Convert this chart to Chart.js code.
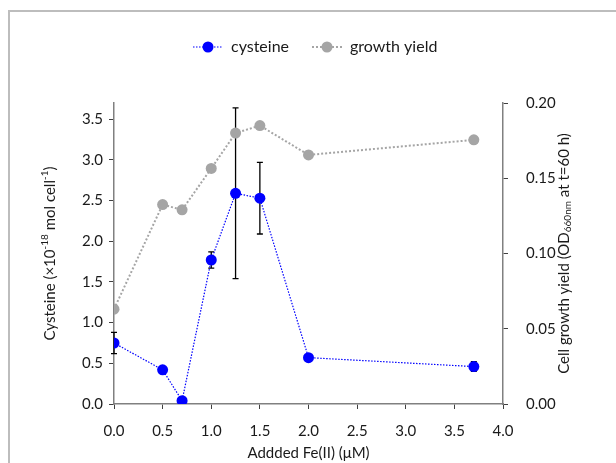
<!DOCTYPE html>
<html><head><meta charset="utf-8">
<script src="https://cdn.jsdelivr.net/npm/chart.js@4/dist/chart.umd.min.js"></script>
<style>
html,body{margin:0;padding:0;background:#fff;}
#wrap{position:relative;width:616px;height:463px;overflow:hidden;background:#fff;}
#frame{position:absolute;left:8px;top:10px;width:700px;height:600px;border-left:2px solid #bdbdbd;border-top:2px solid #bdbdbd;}
canvas{position:absolute;left:0;top:0;}
</style></head><body>
<div id="wrap"><div id="frame"></div><canvas id="c" width="616" height="463"></canvas></div>
<script>
// ---- data ----
const feAdded      = [0, 0.5, 0.7, 1.0, 1.25, 1.5, 2.0, 3.7];
const cysteine     = [0.75, 0.42, 0.04, 1.77, 2.59, 2.53, 0.57, 0.46];
const cysteineErr  = [0.13, 0, 0, 0.10, 1.05, 0.44, 0, 0.06];
const growthYield  = [0.063, 0.1325, 0.129, 0.1565, 0.180, 0.185, 0.1655, 0.1755];
const xTickValues     = [0, 0.5, 1.0, 1.5, 2.0, 2.5, 3.0, 3.5, 4.0];
const leftTickValues  = [0, 0.5, 1.0, 1.5, 2.0, 2.5, 3.0, 3.5];
const rightTickValues = [0, 0.05, 0.10, 0.15, 0.20];
const seriesNames = ['cysteine', 'growth yield'];

const FONT = 'Lato, "Open Sans", sans-serif';
const AXIS_COLOR = '#808080';
const TICK_COLOR = '#404040';
const TEXT_COLOR = '#1a1a1a';

const pts = (ys) => feAdded.map((x, i) => ({x: x, y: ys[i]}));
const setTicks = (vals) => (scale) => { scale.ticks = vals.map(v => ({value: v})); };

function drawRich(ctx, segs, cx, cy, rot) {
  ctx.save();
  ctx.translate(cx, cy);
  ctx.rotate(rot);
  ctx.fillStyle = TEXT_COLOR;
  ctx.textBaseline = 'middle';
  ctx.textAlign = 'left';
  let w = 0;
  segs.forEach(s => { ctx.font = (s.k ? '10px ' : '15px ') + FONT; s.w = ctx.measureText(s.t).width; w += s.w; });
  let x = -w / 2;
  segs.forEach(s => {
    ctx.font = (s.k ? '10px ' : '15px ') + FONT;
    const dy = s.k === 'sup' ? -5 : (s.k === 'sub' ? 4 : 0);
    ctx.fillText(s.t, x, dy);
    x += s.w;
  });
  ctx.restore();
}

const errorBars = {
  id: 'errorBars',
  beforeDatasetsDraw(chart) {
    const ctx = chart.ctx, xs = chart.scales.x, ys = chart.scales.yL;
    ctx.save();
    ctx.strokeStyle = '#000';
    ctx.lineWidth = 1.3;
    feAdded.forEach((x, i) => {
      const e = cysteineErr[i];
      if (!e) return;
      const px = xs.getPixelForValue(x);
      const top = ys.getPixelForValue(cysteine[i] + e);
      const bot = ys.getPixelForValue(cysteine[i] - e);
      ctx.beginPath();
      ctx.moveTo(px, top); ctx.lineTo(px, bot);
      ctx.moveTo(px - 3, top); ctx.lineTo(px + 3, top);
      ctx.moveTo(px - 3, bot); ctx.lineTo(px + 3, bot);
      ctx.stroke();
    });
    ctx.restore();
  }
};

const extras = {
  id: 'extras',
  afterDraw(chart) {
    const ctx = chart.ctx, a = chart.chartArea;
    // axis titles
    drawRich(ctx, [{t: 'Cysteine (\u00d710'}, {t: '-18', k: 'sup'}, {t: ' mol cell'}, {t: '-1', k: 'sup'}, {t: ')'}],
      50, (a.top + a.bottom) / 2, -Math.PI / 2);
    drawRich(ctx, [{t: 'Cell growth yield (OD'}, {t: '660nm', k: 'sub'}, {t: ' at t=60 h)'}],
      564, (a.top + a.bottom) / 2, -Math.PI / 2);
    drawRich(ctx, [{t: 'Addded Fe(II) (\u03bcM)'}], (a.left + a.right) / 2, 453, 0);
    // legend
    const items = [
      {name: seriesNames[0], color: '#0000ff', dash: [1.5, 1.5], lw: 1.2, x0: 193},
      {name: seriesNames[1], color: '#a5a5a5', dash: [2, 2], lw: 2, x0: 312}
    ];
    const ly = 47;
    items.forEach(it => {
      ctx.save();
      ctx.strokeStyle = it.color; ctx.lineWidth = it.lw; ctx.setLineDash(it.dash);
      ctx.beginPath(); ctx.moveTo(it.x0, ly); ctx.lineTo(it.x0 + 30, ly); ctx.stroke();
      ctx.setLineDash([]);
      ctx.fillStyle = it.color;
      ctx.beginPath(); ctx.arc(it.x0 + 15, ly, 5.5, 0, Math.PI * 2); ctx.fill();
      ctx.fillStyle = TEXT_COLOR; ctx.font = '16px ' + FONT;
      ctx.textBaseline = 'middle'; ctx.textAlign = 'left';
      ctx.fillText(it.name, it.x0 + 38, ly);
      ctx.restore();
    });
  }
};

new Chart(document.getElementById('c'), {
  type: 'line',
  data: {
    datasets: [
      {label: seriesNames[0], data: pts(cysteine), yAxisID: 'yL', order: 0,
       borderColor: '#0000ff', backgroundColor: '#0000ff', borderWidth: 1.2, borderDash: [1.5, 1.5],
       pointRadius: 5.5, pointBorderWidth: 0, pointBackgroundColor: '#0000ff', tension: 0},
      {label: seriesNames[1], data: pts(growthYield), yAxisID: 'yR', order: 1,
       borderColor: '#a5a5a5', backgroundColor: '#a5a5a5', borderWidth: 2, borderDash: [2, 2],
       pointRadius: 5.5, pointBorderWidth: 0, pointBackgroundColor: '#a5a5a5', tension: 0}
    ]
  },
  options: {
    responsive: false, animation: false, devicePixelRatio: 1,
    layout: {padding: {top: 103, left: 0, right: 0, bottom: 0}},
    plugins: {legend: {display: false}, tooltip: {enabled: false}},
    scales: {
      x: {type: 'linear', min: 0, max: 4, position: 'bottom',
        afterBuildTicks: setTicks(xTickValues),
        afterFit: s => { s.height = 59; },
        grid: {drawOnChartArea: false, drawTicks: true, tickLength: 5, color: TICK_COLOR, lineWidth: 1},
        border: {color: AXIS_COLOR, width: 1.5},
        ticks: {color: TEXT_COLOR, font: {family: FONT, size: 15}, padding: 13, maxRotation: 0,
          callback: v => v.toFixed(1)}},
      yL: {type: 'linear', min: 0, max: 3.7, position: 'left',
        afterBuildTicks: setTicks(leftTickValues),
        afterFit: s => { s.width = 114; },
        grid: {drawOnChartArea: false, drawTicks: true, tickLength: 5, color: TICK_COLOR, lineWidth: 1},
        border: {color: AXIS_COLOR, width: 1.5},
        ticks: {color: TEXT_COLOR, font: {family: FONT, size: 15}, padding: 6,
          callback: v => v.toFixed(1)}},
      yR: {type: 'linear', min: 0, max: 0.2, position: 'right',
        afterBuildTicks: setTicks(rightTickValues),
        afterFit: s => { s.width = 113; },
        grid: {drawOnChartArea: false, drawTicks: true, tickLength: 5, color: TICK_COLOR, lineWidth: 1},
        border: {color: AXIS_COLOR, width: 1.5},
        ticks: {color: TEXT_COLOR, font: {family: FONT, size: 15}, padding: 18,
          callback: v => v.toFixed(2)}}
    }
  },
  plugins: [errorBars, extras]
});
</script>
</body></html>
